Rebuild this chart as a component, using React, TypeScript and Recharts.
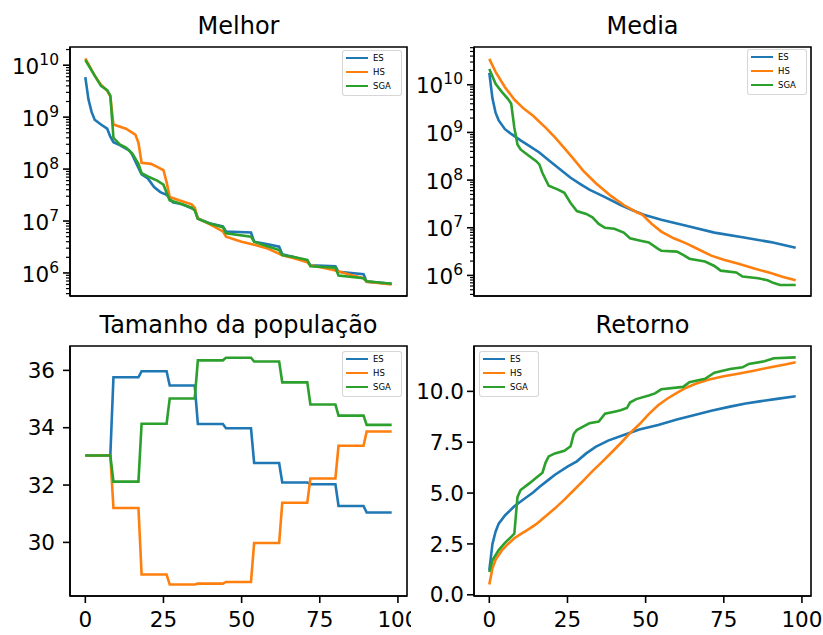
import React from 'react';
import { LineChart, Line, XAxis, YAxis, ReferenceArea } from 'recharts';

const FONT = '"DejaVu Sans", "Liberation Sans", sans-serif';
const TICK_FONT = 21.5;
const SUP_FONT = 15.5;
const TITLE_FONT = 24;
const LEGEND_FONT = 8.5;
const LINE_WIDTH = 2.6;
const SPINE = { stroke: '#000', strokeWidth: 1.6 };

const seriesNames = ['ES', 'HS', 'SGA'];
const seriesColors = ['#1f77b4', '#ff7f0e', '#2ca02c'];

const generationTicks = [0, 25, 50, 75, 100];
const generationDomain: [number, number] = [-4.9, 102.9];

type Pt = [number, number];

// Melhor — best individual per generation
const melhorES: Pt[] = [
  [0, 5.9e9], [1, 2.2e9], [2, 1.26e9], [3, 8.9e8], [5, 7.2e8], [7, 6.0e8], [8, 4.2e8], [9, 3.3e8],
  [11, 2.9e8], [14, 2.3e8], [15, 1.9e8], [17, 1.05e8], [18, 7.9e7], [20, 6.6e7], [22, 4.5e7],
  [24, 3.6e7], [26, 3.2e7], [28, 2.3e7], [31, 2.1e7], [35, 1.66e7], [36, 1.12e7], [40, 8.9e6],
  [44, 7.9e6], [45, 6.3e6], [53, 6.0e6], [54, 4.0e6], [58, 3.6e6], [62, 3.2e6], [63, 2.3e6],
  [67, 2.0e6], [71, 1.7e6], [72, 1.41e6], [80, 1.35e6], [81, 1.05e6], [89, 9.5e5], [90, 6.8e5],
  [98, 6.2e5],
];
const melhorHS: Pt[] = [
  [0, 1.35e10], [3, 6.3e9], [5, 4.2e9], [7, 3.2e9], [8, 2.5e9], [9, 7.2e8], [13, 6.0e8], [16, 4.6e8],
  [17, 3.2e8], [18, 1.32e8], [21, 1.26e8], [23, 1.1e8], [25, 9.5e7], [26, 5.6e7], [27, 2.9e7],
  [30, 2.5e7], [34, 2.1e7], [35, 1.8e7], [36, 1.12e7], [40, 8.5e6], [44, 6.3e6], [45, 5.0e6],
  [50, 4.0e6], [54, 3.5e6], [58, 3.0e6], [63, 2.2e6], [67, 1.9e6], [71, 1.6e6], [72, 1.4e6],
  [76, 1.26e6], [80, 1.12e6], [85, 9.1e5], [89, 7.9e5], [90, 6.8e5], [98, 6.0e5],
];
const melhorSGA: Pt[] = [
  [0, 1.26e10], [3, 6.3e9], [5, 4.0e9], [7, 3.3e9], [8, 2.6e9], [9, 4.0e8], [11, 3.0e8], [13, 2.6e8],
  [15, 2.0e8], [17, 1.26e8], [18, 8.3e7], [20, 7.2e7], [23, 6.0e7], [25, 5.0e7], [26, 3.5e7],
  [27, 2.5e7], [30, 2.2e7], [34, 1.8e7], [35, 1.6e7], [36, 1.1e7], [40, 8.9e6], [44, 7.6e6],
  [45, 5.8e6], [53, 5.0e6], [54, 4.0e6], [58, 3.3e6], [62, 2.75e6], [63, 2.2e6], [67, 2.0e6],
  [71, 1.78e6], [72, 1.35e6], [80, 1.26e6], [81, 8.9e5], [89, 7.9e5], [90, 6.9e5], [98, 6.2e5],
];

// Media — population mean per generation
const mediaES: Pt[] = [
  [0, 1.78e10], [1, 5.2e9], [2, 2.6e9], [3, 1.78e9], [5, 1.17e9], [7, 9.3e8], [10, 6.8e8],
  [13, 5.1e8], [16, 3.8e8], [19, 2.6e8], [22, 1.82e8], [26, 1.12e8], [29, 8.3e7], [32, 6.3e7],
  [37, 4.4e7], [42, 3.0e7], [46, 2.3e7], [50, 1.82e7], [55, 1.48e7], [63, 1.1e7], [72, 7.9e6],
  [81, 6.3e6], [90, 5.0e6], [98, 3.8e6],
];
const mediaHS: Pt[] = [
  [0, 3.5e10], [2, 1.86e10], [5, 8.9e9], [8, 4.9e9], [11, 3.16e9], [14, 2.24e9], [18, 1.26e9],
  [21, 7.9e8], [24, 4.7e8], [27, 2.75e8], [30, 1.58e8], [34, 8.7e7], [39, 4.6e7], [43, 3.0e7],
  [47, 2.14e7], [49, 1.86e7], [52, 1.2e7], [55, 8.3e6], [59, 6.0e6], [63, 4.7e6], [67, 3.5e6],
  [71, 2.6e6], [75, 2.14e6], [80, 1.74e6], [85, 1.38e6], [90, 1.12e6], [94, 9.3e5], [98, 7.9e5],
];
const mediaSGA: Pt[] = [
  [0, 2.14e10], [2, 1.05e10], [4, 7.1e9], [6, 5.0e9], [7, 4.0e9], [8, 1.26e9], [9, 5.6e8],
  [10, 4.4e8], [12, 3.5e8], [15, 2.5e8], [16, 2.14e8], [17, 1.41e8], [19, 7.6e7], [22, 6.3e7],
  [24, 5.4e7], [26, 3.3e7], [28, 2.24e7], [31, 1.95e7], [33, 1.66e7], [35, 1.2e7], [37, 1.0e7],
  [40, 9.5e6], [43, 7.9e6], [45, 6.0e6], [48, 5.4e6], [51, 4.9e6], [54, 3.6e6], [55, 3.3e6],
  [60, 3.16e6], [62, 2.7e6], [64, 2.24e6], [69, 1.95e6], [72, 1.58e6], [74, 1.26e6], [79, 1.15e6],
  [81, 9.5e5], [86, 8.7e5], [89, 7.9e5], [91, 6.9e5], [93, 6.3e5], [98, 6.3e5],
];

// Tamanho da população — population size, changing every nine generations
const tamanhoES: Pt[] = [
  [0, 33.03], [8, 33.03], [9, 35.76], [17, 35.76], [18, 35.97], [26, 35.97], [27, 35.47], [35, 35.47],
  [36, 34.13], [44, 34.13], [45, 33.98], [53, 33.98], [54, 32.77], [62, 32.77], [63, 32.09],
  [71, 32.09], [72, 32.03], [80, 32.03], [81, 31.27], [89, 31.27], [90, 31.04], [98, 31.04],
];
const tamanhoHS: Pt[] = [
  [0, 33.03], [8, 33.03], [9, 31.2], [17, 31.2], [18, 28.88], [26, 28.88], [27, 28.53], [35, 28.53],
  [36, 28.56], [44, 28.56], [45, 28.62], [53, 28.62], [54, 29.98], [62, 29.98], [63, 31.38],
  [71, 31.38], [72, 32.23], [80, 32.23], [81, 33.37], [89, 33.37], [90, 33.87], [98, 33.87],
];
const tamanhoSGA: Pt[] = [
  [0, 33.03], [8, 33.03], [9, 32.12], [17, 32.12], [18, 34.14], [26, 34.14], [27, 35.02], [35, 35.02],
  [36, 36.35], [44, 36.35], [45, 36.44], [53, 36.44], [54, 36.31], [62, 36.31], [63, 35.58],
  [71, 35.58], [72, 34.81], [80, 34.81], [81, 34.42], [89, 34.42], [90, 34.1], [98, 34.1],
];

// Retorno — accumulated return
const retornoES: Pt[] = [
  [0, 1.2], [1, 2.5], [2, 3.1], [3, 3.5], [5, 3.9], [8, 4.35], [11, 4.7], [14, 5.03], [16, 5.3],
  [19, 5.66], [21, 5.9], [25, 6.3], [28, 6.56], [31, 6.95], [34, 7.27], [38, 7.58], [43, 7.85],
  [48, 8.12], [54, 8.35], [60, 8.62], [66, 8.85], [71, 9.05], [77, 9.25], [82, 9.4], [87, 9.52],
  [92, 9.63], [98, 9.76],
];
const retornoHS: Pt[] = [
  [0, 0.5], [1, 1.3], [2, 1.72], [4, 2.18], [6, 2.5], [8, 2.78], [10, 2.98], [12, 3.17], [15, 3.47],
  [18, 3.86], [21, 4.25], [24, 4.68], [27, 5.14], [30, 5.6], [33, 6.08], [36, 6.52], [39, 6.98],
  [42, 7.45], [45, 7.95], [48, 8.38], [51, 8.88], [54, 9.32], [57, 9.65], [60, 9.93], [63, 10.18],
  [66, 10.37], [70, 10.57], [75, 10.74], [80, 10.88], [85, 11.03], [90, 11.19], [95, 11.33],
  [98, 11.43],
];
const retornoSGA: Pt[] = [
  [0, 1.12], [1, 1.7], [3, 2.2], [5, 2.55], [7, 2.85], [8, 3.0], [9, 4.8], [10, 5.15], [13, 5.5],
  [15, 5.75], [17, 6.0], [18, 6.5], [19, 6.8], [21, 6.95], [24, 7.08], [26, 7.3], [27, 7.9],
  [28, 8.1], [30, 8.27], [32, 8.43], [35, 8.52], [37, 8.9], [40, 9.0], [42, 9.07], [44, 9.18],
  [45, 9.45], [47, 9.62], [51, 9.8], [53, 9.9], [55, 10.1], [62, 10.22], [64, 10.45], [69, 10.62],
  [72, 10.92], [77, 11.1], [81, 11.18], [83, 11.35], [88, 11.48], [91, 11.63], [98, 11.67],
];

// Axis ticks
const logMajorTicks = [1e6, 1e7, 1e8, 1e9, 1e10];
const logDecades = [1e5, 1e6, 1e7, 1e8, 1e9, 1e10];
const logMinorMultipliers = [2, 3, 4, 5, 6, 7, 8, 9];
const tamanhoTicks = [30, 32, 34, 36];
const retornoTicks = [0, 2.5, 5, 7.5, 10];

const melhorDomain: [number, number] = [3.6e5, 2.24e10];
const mediaDomain: [number, number] = [3.7e5, 6.2e10];
const tamanhoDomain: [number, number] = [28.13, 36.85];
const retornoDomain: [number, number] = [-0.06, 12.23];

function logTicksWithin([lo, hi]: [number, number]): number[] {
  const minors: number[] = [];
  logDecades.forEach((d) => logMinorMultipliers.forEach((m) => minors.push(d * m)));
  return [...logMajorTicks, ...minors].filter((v) => v >= lo && v <= hi).sort((a, b) => a - b);
}

function isMajor(v: number): boolean {
  return logMajorTicks.some((t) => Math.abs(t - v) < t * 1e-9);
}

const Y_TICK_SIZE = 7;

function makeLogTick(tickMargin: number) {
  return function LogTick(props: any) {
    const { x, y, payload } = props;
    const v = payload.value as number;
    const major = isMajor(v);
    const axisX = x + Y_TICK_SIZE + tickMargin;
    const exp = Math.round(Math.log10(v));
    return (
      <g>
        <line
          x1={axisX - (major ? 7 : 4)}
          x2={axisX}
          y1={y}
          y2={y}
          stroke="#000"
          strokeWidth={major ? 1.6 : 1.2}
        />
        {major && (
          <text x={x} y={y} dy="0.4em" textAnchor="end" fill="#000" fontSize={TICK_FONT} fontFamily={FONT}>
            10
            <tspan dy={-9} fontSize={SUP_FONT}>
              {exp}
            </tspan>
          </text>
        )}
      </g>
    );
  };
}

interface PanelSpec {
  title: string;
  cell: { left: number; top: number; width: number; height: number };
  plot: { left: number; top: number; right: number; bottom: number };
  series: Pt[][];
  yDomain: [number, number];
  yTicks: number[];
  log: boolean;
  yFormat?: (v: number) => string;
  yTickMargin: number;
  showXLabels: boolean;
  legend: { left: number; top: number };
}

const panels: PanelSpec[] = [
  {
    title: 'Melhor',
    cell: { left: 0, top: 0, width: 411, height: 317 },
    plot: { left: 70, top: 47, right: 407, bottom: 296 },
    series: [melhorES, melhorHS, melhorSGA],
    yDomain: melhorDomain,
    yTicks: logTicksWithin(melhorDomain),
    log: true,
    yTickMargin: 4,
    showXLabels: false,
    legend: { left: 342, top: 50 },
  },
  {
    title: 'Media',
    cell: { left: 411, top: 0, width: 412, height: 317 },
    plot: { left: 474, top: 47, right: 811, bottom: 296 },
    series: [mediaES, mediaHS, mediaSGA],
    yDomain: mediaDomain,
    yTicks: logTicksWithin(mediaDomain),
    log: true,
    yTickMargin: 4,
    showXLabels: false,
    legend: { left: 747, top: 49 },
  },
  {
    title: 'Tamanho da população',
    cell: { left: 0, top: 317, width: 411, height: 318 },
    plot: { left: 70, top: 346, right: 407, bottom: 596 },
    series: [tamanhoES, tamanhoHS, tamanhoSGA],
    yDomain: tamanhoDomain,
    yTicks: tamanhoTicks,
    log: false,
    yFormat: (v) => String(v),
    yTickMargin: 8,
    showXLabels: true,
    legend: { left: 342, top: 351 },
  },
  {
    title: 'Retorno',
    cell: { left: 411, top: 317, width: 412, height: 318 },
    plot: { left: 474, top: 346, right: 811, bottom: 596 },
    series: [retornoES, retornoHS, retornoSGA],
    yDomain: retornoDomain,
    yTicks: retornoTicks,
    log: false,
    yFormat: (v) => v.toFixed(1),
    yTickMargin: 3,
    showXLabels: true,
    legend: { left: 479, top: 351 },
  },
];

const tickText = { fill: '#000', fontSize: TICK_FONT, fontFamily: FONT };

function LegendBox({ left, top }: { left: number; top: number }) {
  return (
    <div
      style={{
        position: 'absolute',
        left,
        top,
        width: 58,
        height: 44,
        border: '1px solid rgba(204,204,204,0.8)',
        borderRadius: 3,
        background: 'rgba(255,255,255,0.8)',
        fontFamily: FONT,
        fontSize: LEGEND_FONT,
        color: '#000',
      }}
    >
      {seriesNames.map((name, i) => (
        <div key={name} style={{ height: 14, display: 'flex', alignItems: 'center' }}>
          <div style={{ width: 22, height: LINE_WIDTH, marginLeft: 3, background: seriesColors[i] }} />
          <span style={{ marginLeft: 5, lineHeight: 1 }}>{name}</span>
        </div>
      ))}
    </div>
  );
}

function Panel({ spec }: { spec: PanelSpec }) {
  const { cell, plot } = spec;
  const yAxisWidth = plot.left - cell.left;
  const xAxisHeight = cell.top + cell.height - plot.bottom;
  const margin = {
    top: plot.top - cell.top,
    right: cell.left + cell.width - plot.right,
    bottom: 0,
    left: 0,
  };
  const LogTick = spec.log ? makeLogTick(spec.yTickMargin) : null;
  return (
    <>
      <div style={{ position: 'absolute', left: cell.left, top: cell.top }}>
        <LineChart width={cell.width} height={cell.height} margin={margin}>
          <XAxis
            dataKey="x"
            type="number"
            domain={generationDomain}
            ticks={generationTicks}
            allowDataOverflow
            interval={0}
            height={xAxisHeight}
            tickSize={7}
            tickMargin={9}
            axisLine={SPINE}
            tickLine={SPINE}
            tick={spec.showXLabels ? tickText : false}
          />
          {spec.log && LogTick ? (
            <YAxis
              type="number"
              scale="log"
              domain={spec.yDomain}
              ticks={spec.yTicks}
              allowDataOverflow
              interval={0}
              width={yAxisWidth}
              tickSize={Y_TICK_SIZE}
              tickMargin={spec.yTickMargin}
              axisLine={SPINE}
              tickLine={false}
              tick={(p: any) => <LogTick {...p} />}
            />
          ) : (
            <YAxis
              type="number"
              domain={spec.yDomain}
              ticks={spec.yTicks}
              allowDataOverflow
              interval={0}
              width={yAxisWidth}
              tickSize={Y_TICK_SIZE}
              tickMargin={spec.yTickMargin}
              axisLine={SPINE}
              tickLine={SPINE}
              tick={tickText}
              tickFormatter={spec.yFormat}
            />
          )}
          {seriesNames.map((name, i) => (
            <Line
              key={name}
              name={name}
              data={spec.series[i].map(([x, y]) => ({ x, y }))}
              dataKey="y"
              stroke={seriesColors[i]}
              strokeWidth={LINE_WIDTH}
              dot={false}
              activeDot={false}
              isAnimationActive={false}
            />
          ))}
          <ReferenceArea
            x1={generationDomain[0]}
            x2={generationDomain[1]}
            y1={spec.yDomain[0]}
            y2={spec.yDomain[1]}
            ifOverflow="visible"
            fill="none"
            fillOpacity={0}
            stroke="#000"
            strokeWidth={1.6}
          />
        </LineChart>
      </div>
      <div
        style={{
          position: 'absolute',
          left: plot.left,
          width: plot.right - plot.left,
          top: plot.top - 13 - Math.round(TITLE_FONT * 0.846),
          textAlign: 'center',
          fontFamily: FONT,
          fontSize: TITLE_FONT,
          lineHeight: 1,
          color: '#000',
          whiteSpace: 'nowrap',
        }}
      >
        {spec.title}
      </div>
      <LegendBox left={spec.legend.left} top={spec.legend.top} />
    </>
  );
}

export default function App() {
  return (
    <div
      style={{
        position: 'absolute',
        left: 0,
        top: 0,
        width: 823,
        height: 635,
        background: '#fff',
        overflow: 'hidden',
      }}
    >
      {panels.map((p) => (
        <Panel key={p.title} spec={p} />
      ))}
    </div>
  );
}
